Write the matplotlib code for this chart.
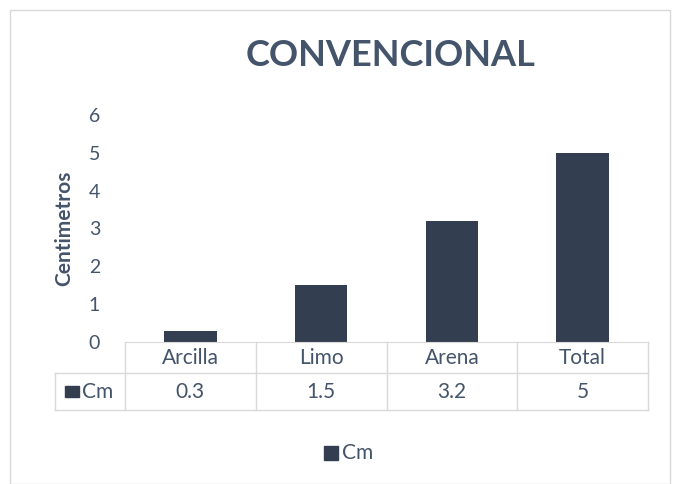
"""
Bar chart with Excel-style data table: CONVENCIONAL
"""
import matplotlib.pyplot as plt
from matplotlib.patches import Rectangle
from matplotlib.lines import Line2D
import numpy as np

categories = ['Arcilla', 'Limo', 'Arena', 'Total']
cm_values = [0.3, 1.5, 3.2, 5]
value_labels = ['0.3', '1.5', '3.2', '5']
series_name = 'Cm'

BAR = '#333F50'
TXT = '#44546A'
GRID = '#D9D9D9'

plt.rcParams['font.family'] = ['Lato', 'DejaVu Sans']

fig = plt.figure(figsize=(6.8, 4.84), dpi=100)
fig.patches.append(Rectangle((10 / 680, 0), 660 / 680, 474 / 484, transform=fig.transFigure,
                             fill=False, edgecolor=GRID, linewidth=1))

ax = fig.add_axes([125 / 680, 1 - 342 / 484, 523 / 680, 227 / 484])
x = np.arange(len(categories))
ax.bar(x, cm_values, width=0.4, color=BAR, zorder=2)
ax.set_xlim(-0.5, len(categories) - 0.5)
ax.set_ylim(0, 6)
ax.set_yticks(range(0, 7))
ax.tick_params(axis='y', length=0, labelsize=14, labelcolor=TXT, pad=18)
ax.set_xticks([])
for s in ['top', 'right', 'left']:
    ax.spines[s].set_visible(False)
ax.spines['bottom'].set_color(GRID)
ax.set_ylabel('Centimetros', fontsize=15, fontweight='bold', color=TXT, labelpad=10)

fig.text(391 / 680, 1 - 55 / 484, 'CONVENCIONAL', ha='center', va='center',
         fontsize=26, fontweight='bold', color=TXT)

# data table under the axis
tr = ax.get_xaxis_transform()
r1 = -31 / 227
r2 = -68 / 227
hdr = -0.5 - 70 / 523 * 4
for i, (c, v) in enumerate(zip(categories, value_labels)):
    ax.text(i, r1 / 2, c, transform=tr, ha='center', va='center', fontsize=15, color=TXT)
    ax.text(i, (r1 + r2) / 2, v, transform=tr, ha='center', va='center', fontsize=15, color=TXT)
for b in np.arange(len(categories) + 1) - 0.5:
    ax.add_line(Line2D([b, b], [0, r2], transform=tr, color=GRID, lw=1, clip_on=False))
ax.add_line(Line2D([hdr, len(categories) - 0.5], [r1, r1], transform=tr, color=GRID, lw=1, clip_on=False))
ax.add_line(Line2D([hdr, len(categories) - 0.5], [r2, r2], transform=tr, color=GRID, lw=1, clip_on=False))
ax.add_line(Line2D([hdr, hdr], [r1, r2], transform=tr, color=GRID, lw=1, clip_on=False))
ax.add_patch(Rectangle((hdr + 0.08, (r1 + r2) / 2 - 0.026), 0.1, 0.052, transform=tr,
                       color=BAR, clip_on=False))
ax.text(hdr + 0.21, (r1 + r2) / 2, series_name, transform=tr, ha='left', va='center',
        fontsize=15, color=TXT)

# legend at bottom
fig.patches.append(Rectangle((324 / 680, 1 - 460 / 484), 14 / 680, 14 / 484,
                             transform=fig.transFigure, color=BAR))
fig.text(342 / 680, 1 - 453 / 484, series_name, ha='left', va='center', fontsize=15, color=TXT)

fig.savefig('out.png', dpi=100)
